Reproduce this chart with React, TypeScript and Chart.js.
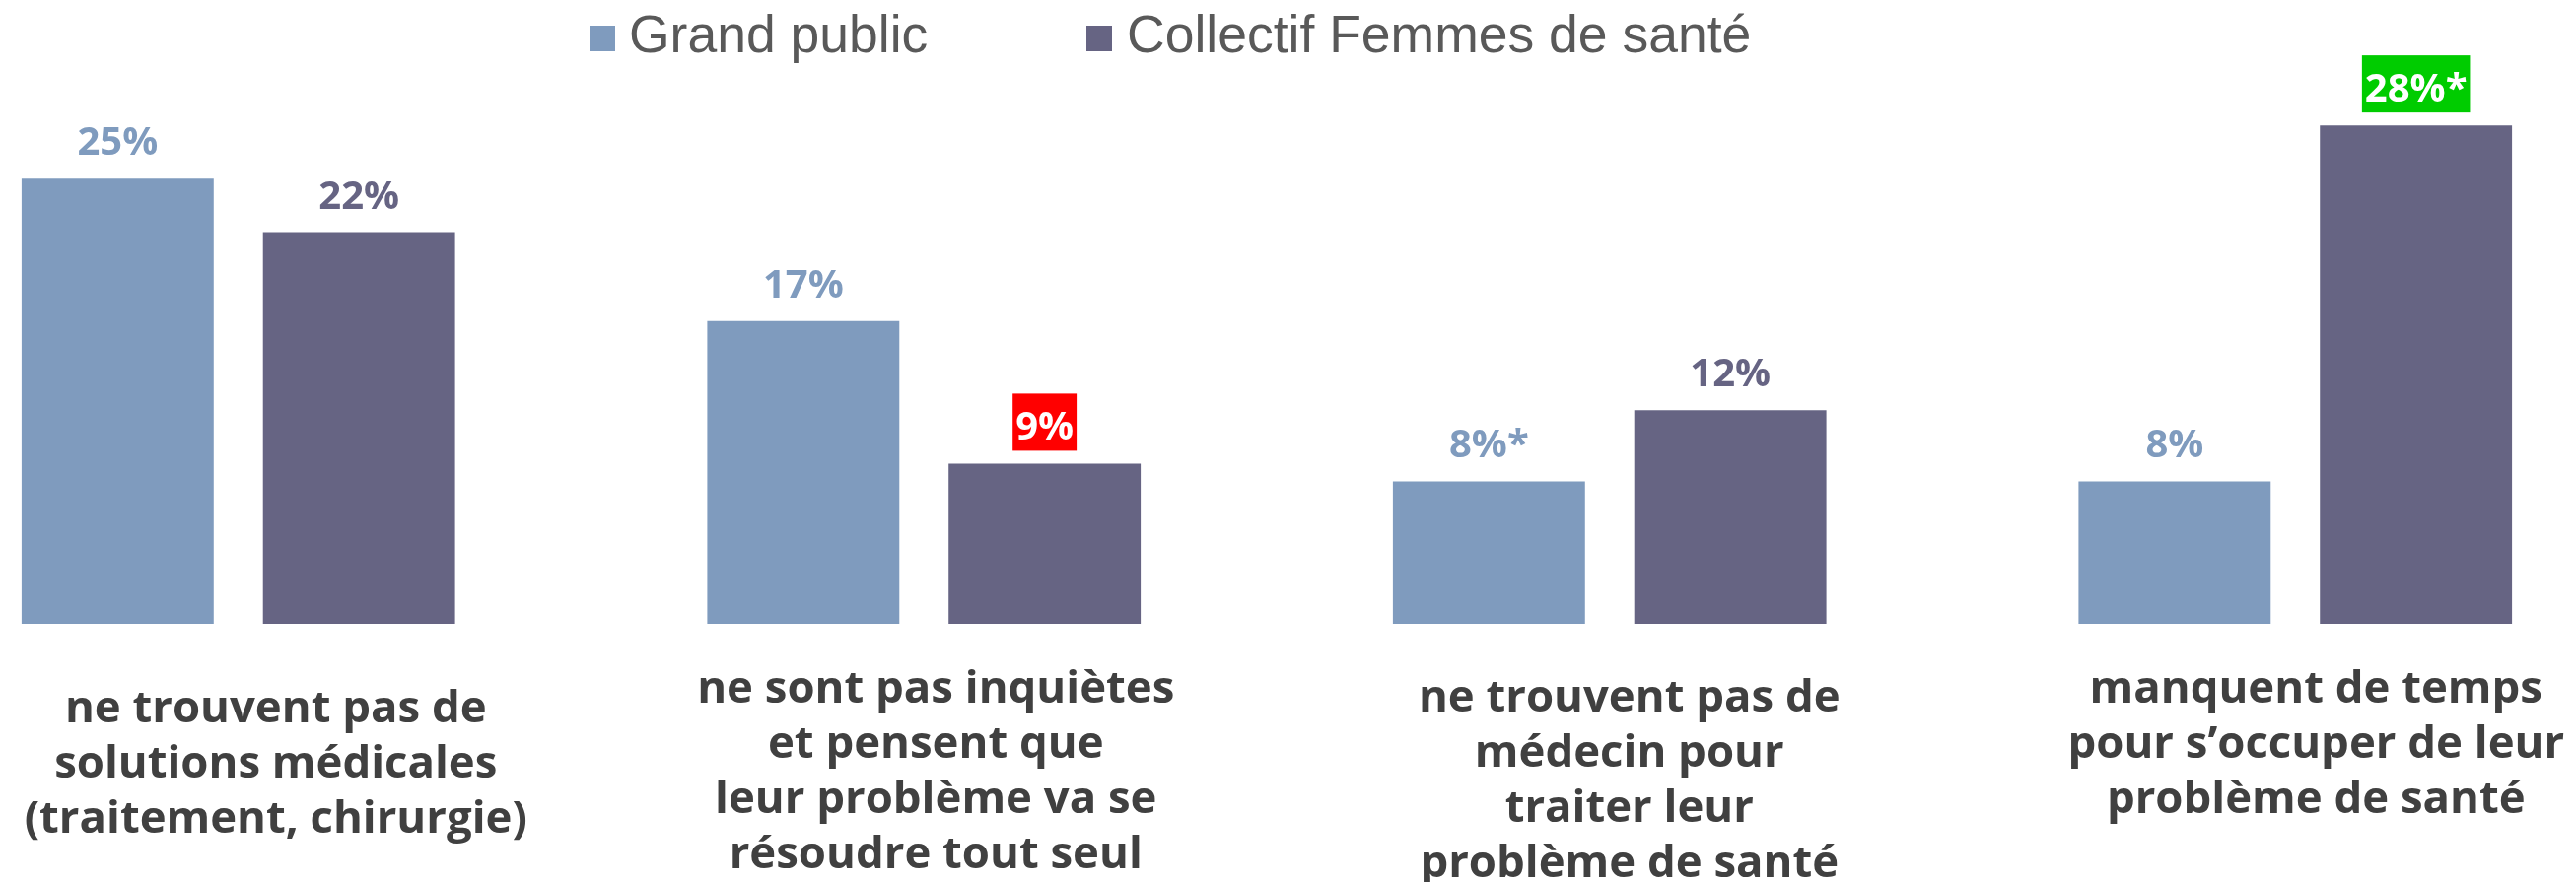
import React, { useEffect, useRef } from "react";
import { Chart, registerables } from "chart.js";

Chart.register(...registerables);

// ---- data ----
const categories: string[][] = [
  ["ne trouvent pas de", "solutions médicales", "(traitement, chirurgie)"],
  ["ne sont pas inquiètes", "et pensent que", "leur problème va se", "résoudre tout seul"],
  ["ne trouvent pas de", "médecin pour", "traiter leur", "problème de santé"],
  ["manquent de temps", "pour s’occuper de leur", "problème de santé"],
];
const seriesNames = ["Grand public", "Collectif Femmes de santé"];
const grandPublic = [25, 17, 8, 8];
const collectif = [22, 9, 12, 28];
const grandPublicSuffix = ["", "", "*", ""];
const collectifSuffix = ["", "", "", "*"];
const grandPublicHighlight: (string | null)[] = [null, null, null, null];
const collectifHighlight: (string | null)[] = [null, "#FF0000", null, "#00CC00"];

// ---- style ----
const GP_COLOR = "#7F9BBE";
const CF_COLOR = "#666483";
const LABEL_COLOR = "#404040";
const LEGEND_COLOR = "#595959";
const OFFSET_X = 106; // canvas starts 106px left of the page
const CANVAS_W = 2782;
const CANVAS_H = 895;
const catFirstBaseline = [733, 713, 722, 713];
const catShiftX = [38, 12, 20, 21];
const catLineHeight = 56;

const valueLabelPlugin = {
  id: "valueLabels",
  afterDatasetsDraw(chart: any) {
    const ctx = chart.ctx;
    ctx.save();
    ctx.font = "700 40px 'Open Sans', sans-serif";
    ctx.textAlign = "center";
    ctx.textBaseline = "alphabetic";
    chart.data.datasets.forEach((ds: any, di: number) => {
      const meta = chart.getDatasetMeta(di);
      meta.data.forEach((el: any, i: number) => {
        const text = ds.data[i] + "%" + (ds.suffix[i] || "");
        const base = el.y - 24;
        const hl = ds.highlight[i];
        if (hl) {
          const w = ctx.measureText(text).width;
          ctx.fillStyle = hl;
          ctx.fillRect(el.x - w / 2 - 3, base - 47, w + 6, 58);
          ctx.fillStyle = "#FFFFFF";
        } else {
          ctx.fillStyle = ds.backgroundColor;
        }
        ctx.fillText(text, el.x, base);
      });
    });
    ctx.restore();
  },
};

const categoryLabelPlugin = {
  id: "categoryLabels",
  afterDraw(chart: any) {
    const ctx = chart.ctx;
    const xs = chart.scales.x;
    ctx.save();
    ctx.font = "700 45.5px 'Open Sans', sans-serif";
    ctx.textAlign = "center";
    ctx.textBaseline = "alphabetic";
    ctx.fillStyle = LABEL_COLOR;
    categories.forEach((lines, i) => {
      const x = xs.getPixelForValue(i) + catShiftX[i];
      lines.forEach((line, k) => {
        ctx.fillText(line, x, catFirstBaseline[i] + k * catLineHeight);
      });
    });
    ctx.restore();
  },
};

const legendPlugin = {
  id: "customLegend",
  afterDraw(chart: any) {
    const ctx = chart.ctx;
    const items = [
      { boxX: 598, textX: 638 },
      { boxX: 1102, textX: 1143 },
    ];
    ctx.save();
    ctx.font = "400 53.5px 'Liberation Sans', Arial, sans-serif";
    ctx.textAlign = "left";
    ctx.textBaseline = "alphabetic";
    chart.data.datasets.forEach((ds: any, di: number) => {
      const it = items[di];
      ctx.fillStyle = ds.backgroundColor;
      ctx.fillRect(it.boxX + OFFSET_X, 26, 26, 26);
      ctx.fillStyle = LEGEND_COLOR;
      ctx.fillText(ds.label, it.textX + OFFSET_X, 53);
    });
    ctx.restore();
  },
};

export default function App() {
  const ref = useRef<HTMLCanvasElement | null>(null);
  useEffect(() => {
    if (!ref.current) return;
    const chart = new Chart(ref.current, {
      type: "bar",
      data: {
        labels: categories.map((c) => c.join(" ")),
        datasets: [
          {
            label: seriesNames[0],
            data: grandPublic,
            backgroundColor: GP_COLOR,
            suffix: grandPublicSuffix,
            highlight: grandPublicHighlight,
            categoryPercentage: 0.704,
            barPercentage: 0.796,
          } as any,
          {
            label: seriesNames[1],
            data: collectif,
            backgroundColor: CF_COLOR,
            suffix: collectifSuffix,
            highlight: collectifHighlight,
            categoryPercentage: 0.704,
            barPercentage: 0.796,
          } as any,
        ],
      },
      options: {
        animation: false,
        responsive: true,
        maintainAspectRatio: false,
        layout: { padding: { left: 0, right: 0, top: 91, bottom: 262 } },
        plugins: { legend: { display: false }, tooltip: { enabled: false } },
        scales: {
          x: { display: false, grid: { display: false } },
          y: { display: false, min: 0, max: 30, grid: { display: false } },
        },
      },
      plugins: [valueLabelPlugin, categoryLabelPlugin, legendPlugin],
    });
    return () => chart.destroy();
  }, []);
  return (
    <div
      style={{
        position: "fixed",
        left: -OFFSET_X,
        top: 0,
        width: CANVAS_W,
        height: CANVAS_H,
        background: "#FFFFFF",
      }}
    >
      <canvas ref={ref} />
    </div>
  );
}
